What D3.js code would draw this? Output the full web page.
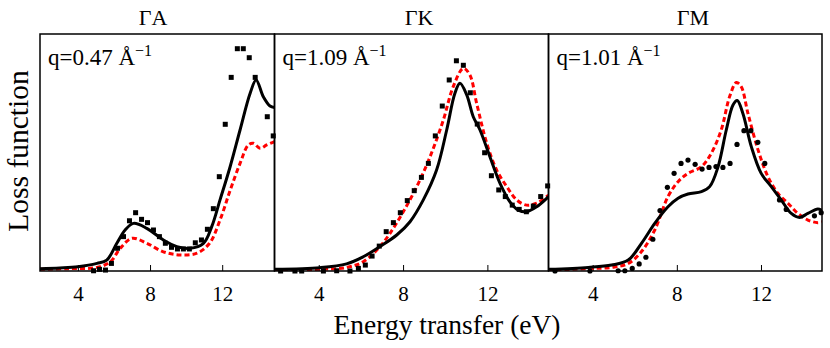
<!DOCTYPE html>
<html>
<head>
<meta charset="utf-8">
<script src="https://cdnjs.cloudflare.com/ajax/libs/d3/7.8.5/d3.min.js"></script>
<style>
  body { margin: 0; background: #fff; }
  text { font-family: "Liberation Serif", "DejaVu Serif", serif; fill: #000; }
</style>
</head>
<body>
<svg id="chart" width="830" height="348"></svg>
<script>
// panel titles and q annotations
var panel_titles = ["\u0393A", "\u0393K", "\u0393M"];
var panel_q = ["0.47", "1.09", "1.01"];
var x_ticks = [4, 8, 12];

// Gamma-A : theory (solid, dashed) and experiment (squares)
var ga_solid_e = [1.9, 3.0, 4.0, 5.06, 5.6, 6.16, 6.62, 7.08, 7.82, 8.74, 9.49, 10.22, 10.96, 11.42, 11.88, 12.44, 12.99, 13.55, 13.88, 14.28, 14.65, 14.9];
var ga_solid_v = [1.0, 1.3, 1.8, 3.2, 4.6, 11.7, 17.3, 20.1, 18.0, 13.1, 10.3, 9.6, 11.7, 18.7, 30, 44, 59.5, 75, 80.6, 73.5, 69.6, 69];
var ga_dash_e = [1.9, 3.5, 5.06, 5.8, 6.35, 7.0, 7.82, 8.74, 9.66, 10.6, 11.3, 11.88, 12.44, 12.99, 13.45, 13.73, 14.1, 14.47, 14.9];
var ga_dash_v = [0.7, 1.0, 1.5, 3.9, 9.6, 13.8, 11.7, 8.1, 6.8, 7.5, 11.7, 21.5, 34, 45.4, 53.2, 53.9, 51.8, 53.2, 54.6];
var ga_exp_e = [4.87, 5.2, 5.53, 5.86, 6.2, 6.53, 6.86, 7.2, 7.53, 7.86, 8.19, 8.52, 8.85, 9.19, 9.52, 9.85, 10.18, 10.51, 10.85, 11.18, 11.51, 11.84, 12.17, 12.5, 12.84, 13.17, 13.5, 13.83, 14.5, 14.83];
var ga_exp_v = [0.1, 0.7, 0.4, 3.2, 9.6, 14.5, 21.2, 24.6, 21.8, 20.4, 17.3, 14.5, 11.7, 10, 9.3, 9.3, 9.3, 11.9, 13.1, 17.6, 26.3, 39.8, 61.9, 81.7, 93.8, 93.8, 90, 81.7, 65.1, 57];

// Gamma-K
var gk_solid_e = [1.92, 4.06, 5.32, 6.11, 6.9, 7.7, 8.33, 8.96, 9.59, 10.07, 10.46, 10.7, 11.02, 11.33, 11.65, 12.12, 12.6, 13.07, 13.47, 13.86, 14.34, 14.9];
var gk_solid_v = [0.7, 1.4, 3.0, 6.0, 10.3, 15.2, 20.8, 30, 42.6, 59.5, 75, 79.2, 74.3, 65.1, 59.5, 48.2, 37, 29.2, 25.7, 25, 27.1, 31.4];
var gk_dash_e = [1.92, 4.06, 5.32, 6.11, 6.9, 7.38, 8.01, 8.65, 9.28, 9.91, 10.38, 10.86, 11.17, 11.49, 11.97, 12.44, 12.92, 13.39, 13.86, 14.34, 14.9];
var gk_dash_v = [0.3, 0.7, 1.5, 3.9, 10.3, 15.9, 25, 35.6, 48.2, 63.7, 77.8, 85.5, 82.7, 70.8, 53.9, 42.6, 35.6, 30, 27.8, 28.6, 32];
var gk_exp_e = [2.19, 2.87, 3.19, 4.22, 4.85, 5.48, 5.88, 6.21, 6.53, 6.87, 7.2, 7.54, 7.87, 8.2, 8.53, 8.87, 9.2, 9.53, 9.86, 10.19, 10.53, 10.86, 11.19, 11.52, 11.87, 12.19, 12.54, 12.85, 13.18, 13.51, 13.85, 14.18, 14.53, 14.86];
var gk_exp_v = [0, 0, 0, 0, 0.1, 0, 1.1, 2.5, 6.3, 10.5, 16.6, 20.4, 24.6, 29.7, 33.9, 39.5, 45.4, 57, 69.6, 80.6, 88.7, 86.8, 75.2, 62, 49.9, 40.2, 34.2, 31.4, 27.8, 26, 25, 27.4, 31.4, 35.9];

// Gamma-M
var gm_solid_e = [1.9, 3.79, 4.9, 5.69, 6.32, 6.95, 7.58, 8.06, 8.53, 9.17, 9.56, 9.96, 10.35, 10.67, 10.87, 11.14, 11.54, 12.01, 12.49, 12.96, 13.44, 13.83, 14.23, 14.7, 14.9];
var gm_solid_v = [0.7, 1.5, 2.5, 4.6, 11.7, 20.1, 27.1, 30.7, 32.5, 33.5, 35.6, 44, 59.5, 70, 71.9, 66.5, 52.5, 41.2, 35.6, 30, 24.3, 22.6, 24.3, 26.2, 25.5];
var gm_dash_e = [1.9, 3.79, 4.9, 5.69, 6.32, 6.95, 7.58, 8.06, 8.53, 9.17, 9.64, 10.11, 10.51, 10.83, 11.06, 11.38, 11.86, 12.33, 12.8, 13.28, 13.75, 14.23, 14.7, 14.9];
var gm_dash_v = [0.3, 1.0, 1.5, 3.2, 8.2, 17.3, 31.4, 37.7, 41.2, 44, 49.7, 59.5, 73.6, 79.5, 77.8, 66.5, 51.1, 39.8, 32.8, 28.6, 24.3, 21.5, 20.4, 20.8];
var gm_exp_e = [2.21, 3.87, 5.21, 5.53, 5.88, 6.21, 6.53, 6.86, 7.2, 7.55, 7.87, 8.2, 8.53, 8.87, 9.2, 9.53, 9.86, 10.19, 10.53, 10.86, 11.19, 11.52, 11.85, 12.18, 12.88, 13.2, 14.54, 14.86];
var gm_exp_v = [0, 0, 0.1, 0.1, 1.1, 3.0, 5.8, 13.4, 25.5, 35.3, 41.2, 45.4, 46.8, 45, 43, 43.7, 44.1, 43.7, 45.4, 53.4, 59.2, 59.2, 54.3, 45.4, 30, 26, 23.3, 24.6];

function zip(xs, ys) {
  var out = [];
  for (var i = 0; i < xs.length; i++) {
    out.push({e: xs[i], v: ys[i]});
  }
  return out;
}

var panels = [
  {solid: zip(ga_solid_e, ga_solid_v), dash: zip(ga_dash_e, ga_dash_v), exp: zip(ga_exp_e, ga_exp_v), marker: "square", left: 40, right: 274.5, title_x: 153},
  {solid: zip(gk_solid_e, gk_solid_v), dash: zip(gk_dash_e, gk_dash_v), exp: zip(gk_exp_e, gk_exp_v), marker: "square", left: 274.5, right: 548.5, title_x: 419},
  {solid: zip(gm_solid_e, gm_solid_v), dash: zip(gm_dash_e, gm_dash_v), exp: zip(gm_exp_e, gm_exp_v), marker: "circle", left: 548.5, right: 822, title_x: 693}
];

// "top" is taken by window.top, so plot_top / plot_bottom
var plot_top = 34, plot_bottom = 271;
var svg = d3.select("#chart");

var y = d3.scaleLinear().domain([0, 100]).range([plot_bottom, plot_top]);

function draw_panel(p, i) {
  var x = d3.scaleLinear().domain([1.9, 14.9]).range([p.left, p.right]);
  var g = svg.append("g");

  g.append("clipPath")
      .attr("id", "clip" + i)
    .append("rect")
      .attr("x", p.left)
      .attr("y", plot_top)
      .attr("width", p.right - p.left)
      .attr("height", plot_bottom - plot_top);

  var line = d3.line()
      .x(function(d) { return x(d.e); })
      .y(function(d) { return y(d.v); })
      .curve(d3.curveCatmullRom.alpha(0.5));

  // inward ticks on the bottom axis
  var axis = d3.axisBottom(x)
      .tickValues(x_ticks)
      .tickSizeInner(-6)
      .tickSizeOuter(0)
      .tickPadding(15)
      .tickFormat(d3.format("d"));

  var ax = g.append("g")
      .attr("transform", "translate(0," + plot_bottom + ")")
      .call(axis);
  ax.select(".domain").remove();
  ax.selectAll("line").attr("stroke", "#000").attr("stroke-width", 1);
  ax.selectAll("text")
      .style("font-size", "21px")
      .style("font-family", "'Liberation Serif', serif");

  g.append("path")
      .datum(p.dash)
      .attr("clip-path", "url(#clip" + i + ")")
      .attr("fill", "none")
      .attr("stroke", "#ff0000")
      .attr("stroke-width", 3)
      .attr("stroke-dasharray", "5,3")
      .attr("d", line);

  g.append("path")
      .datum(p.solid)
      .attr("clip-path", "url(#clip" + i + ")")
      .attr("fill", "none")
      .attr("stroke", "#000")
      .attr("stroke-width", 3)
      .attr("d", line);

  if (p.marker == "square") {
    g.selectAll(".pt")
        .data(p.exp)
      .enter().append("rect")
        .attr("class", "pt")
        .attr("x", function(d) { return x(d.e) - 2.5; })
        .attr("y", function(d) { return y(d.v) - 2.5; })
        .attr("width", 5)
        .attr("height", 5)
        .attr("fill", "#000");
  } else {
    g.selectAll(".pt")
        .data(p.exp)
      .enter().append("circle")
        .attr("class", "pt")
        .attr("cx", function(d) { return x(d.e); })
        .attr("cy", function(d) { return y(d.v); })
        .attr("r", 2.6)
        .attr("fill", "#000");
  }

  g.append("rect")
      .attr("x", p.left)
      .attr("y", plot_top)
      .attr("width", p.right - p.left)
      .attr("height", plot_bottom - plot_top)
      .attr("fill", "none")
      .attr("stroke", "#000")
      .attr("stroke-width", 1.5);

  g.append("text")
      .attr("x", p.title_x)
      .attr("y", 25)
      .attr("text-anchor", "middle")
      .style("font-size", "22px")
      .text(panel_titles[i]);

  var q = g.append("text")
      .attr("x", p.left + 8)
      .attr("y", 65)
      .style("font-size", "23px");
  q.append("tspan").text("q=" + panel_q[i] + " \u00c5");
  q.append("tspan")
      .attr("dy", -9)
      .style("font-size", "16px")
      .text("\u22121");
}

for (var i = 0; i < panels.length; i++) {
  draw_panel(panels[i], i);
}

svg.append("text")
    .attr("x", 447)
    .attr("y", 334)
    .attr("text-anchor", "middle")
    .style("font-size", "27.5px")
    .text("Energy transfer (eV)");

svg.append("text")
    .attr("transform", "translate(28,151) rotate(-90)")
    .attr("text-anchor", "middle")
    .style("font-size", "29.5px")
    .text("Loss function");
</script>
</body>
</html>
